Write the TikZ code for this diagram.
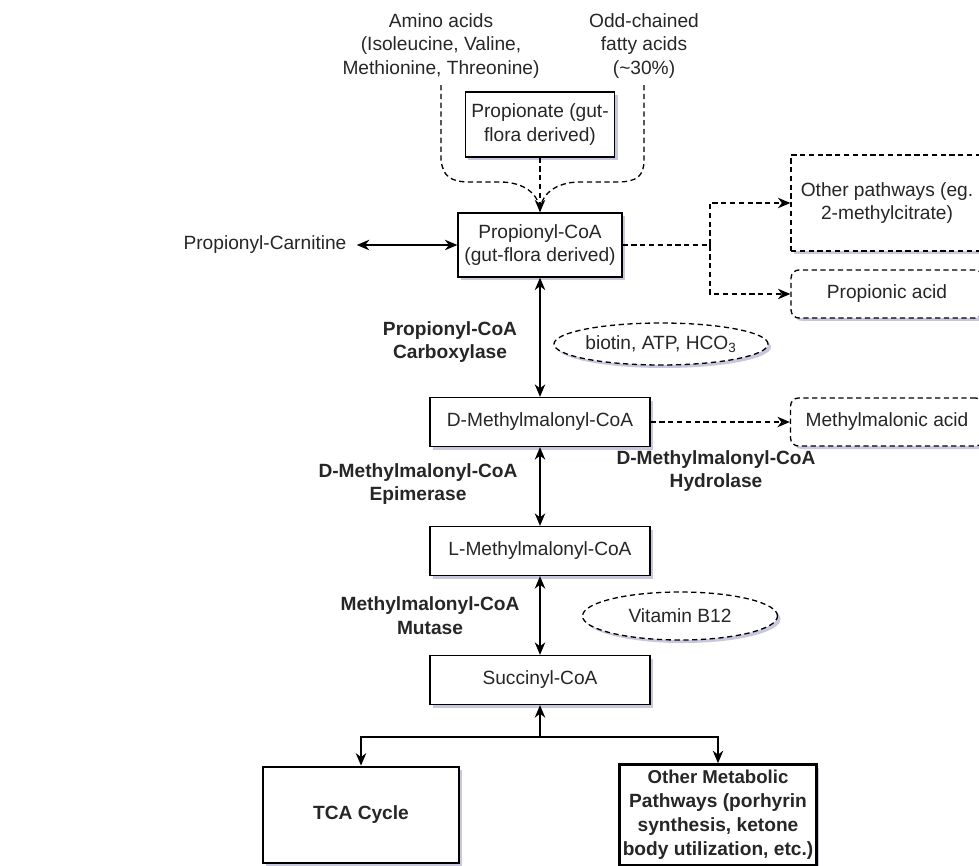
\documentclass[tikz,border=0pt]{standalone}
\usepackage{fontspec}
\setmainfont{Liberation Sans}
\usetikzlibrary{arrows.meta,shapes.geometric,shadows}
\newcommand{\pxfont}{\fontsize{10.9}{13.6}\selectfont}
\newcommand{\tip}{Stealth[length=2.5mm,width=2.1mm,inset=0.8mm]}

\begin{document}
\begin{tikzpicture}[x=0.02cm,y=-0.02cm,font=\pxfont,text=black!85,
	shade/.style={drop shadow={shadow xshift=0.06cm,shadow yshift=-0.06cm,opacity=0.22,fill=black!60!blue}},
	dashy/.style={dash pattern=on 3pt off 2pt},
	box/.style={draw,rectangle,fill=white,line width=0.75pt,align=center,shade},
	bigbox/.style={box,line width=1.6pt,font=\pxfont\bfseries},
	sidebox/.style={box,dashy},
	roundbox/.style={sidebox,rounded corners=0.16cm},
	cofactor/.style={draw,ellipse,fill=white,line width=0.75pt,dashy,inner sep=0pt,shade},
	enzyme/.style={align=center,font=\pxfont\bfseries},
	link/.style={line width=0.75pt,-{\tip}},
	both/.style={line width=0.75pt,{\tip}-{\tip}}]
\useasboundingbox (0,0) rectangle (979,865);
%
\node[align=center] (amino) at (441,46) {Amino acids\\(Isoleucine, Valine,\\Methionine, Threonine)};
\node[align=center] (oddfa) at (644,46) {Odd-chained\\fatty acids\\(\textasciitilde30\%)};
\node[box,minimum width=2.92cm,minimum height=1.3cm] (prop) at (540,124.5) {Propionate (gut-\\flora derived)};
\node[box,minimum width=3.28cm,minimum height=1.28cm] (pcoa) at (540,245) {Propionyl-CoA\\(gut-flora derived)};
\node[inner xsep=0.2cm] (carn) at (265,245) {Propionyl-Carnitine};
%
\node[sidebox,minimum width=3.84cm,minimum height=1.92cm] (othp) at (887,203) {Other pathways (eg.\\2-methylcitrate)};
\node[roundbox,minimum width=3.84cm,minimum height=0.96cm] (propac) at (887,294) {Propionic acid};
\node[roundbox,minimum width=3.86cm,minimum height=0.96cm] (mma) at (887,422) {Methylmalonic acid};
%
\node[box,minimum width=4.4cm,minimum height=0.98cm] (dmm) at (540,422) {D-Methylmalonyl-CoA};
\node[box,minimum width=4.4cm,minimum height=0.98cm] (lmm) at (540,551) {L-Methylmalonyl-CoA};
\node[box,minimum width=4.4cm,minimum height=0.98cm] (succ) at (540,680) {Succinyl-CoA};
\node[bigbox,minimum width=3.92cm,minimum height=1.92cm] (tca) at (361,815) {TCA Cycle};
\node[bigbox,minimum width=3.94cm,minimum height=1.92cm,inner xsep=1pt] (omp) at (718,815)
	{\fontsize{10.6}{12.5}\selectfont Other Metabolic\\Pathways (porhyrin\\synthesis, ketone\\body utilization, etc.)};
%
\node[cofactor,minimum width=3.94cm,minimum height=0.84cm] (biotin) at (661,344) {biotin, ATP, HCO\textsubscript{3}};
\node[cofactor,minimum width=3.9cm,minimum height=0.96cm] (vitb) at (680,616) {Vitamin B12};
%
\node[enzyme] (pcc) at (450,342) {Propionyl-CoA\\Carboxylase};
\node[enzyme] (epi) at (418,484) {D-Methylmalonyl-CoA\\Epimerase};
\node[enzyme] (hyd) at (716,471) {D-Methylmalonyl-CoA\\Hydrolase};
\node[enzyme] (mut) at (430,616) {Methylmalonyl-CoA\\Mutase};
%
% sources into propionyl-CoA
\draw[line width=0.75pt,dashy] (amino.south) -- (amino.south |- 0,160)
	.. controls (443,176) and (450,182) .. (470,182) -- (500,182)
	.. controls (525,182) and (540,195) .. (pcoa.north);
\draw[line width=0.75pt,dashy] (oddfa.south) -- (oddfa.south |- 0,160)
	.. controls (644,176) and (637,182) .. (617,182) -- (580,182)
	.. controls (555,182) and (540,195) .. (pcoa.north);
\draw[link,dashy] (prop) -- (pcoa);
\draw[both] (carn) -- (pcoa);
%
\coordinate (fork) at (710,245);
\draw[link,dashy] (pcoa.east) -- (fork) |- (othp.west);
\draw[link,dashy] (pcoa.east) -- (fork) |- (propac.west);
\draw[link,dashy] (dmm) -- (mma);
%
\draw[both] (pcoa) -- (dmm);
\draw[both] (dmm) -- (lmm);
\draw[both] (lmm) -- (succ);
%
\coordinate (split) at (540,737);
\draw[link] (split) -- (succ);
\draw[link] (split) -| (tca.north);
\draw[link] (split) -| (omp.north);
\end{tikzpicture}
\end{document}
